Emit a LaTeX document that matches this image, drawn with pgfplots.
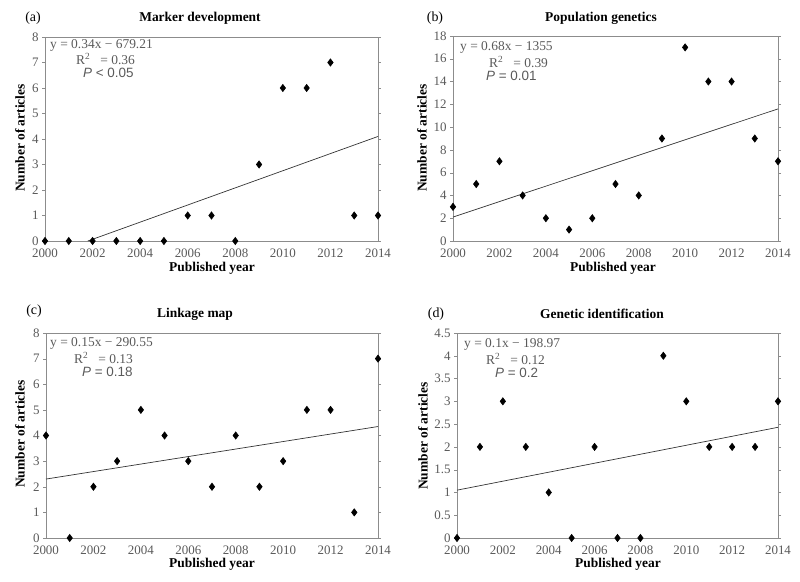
\documentclass[border=0pt]{standalone}
\usepackage{fontspec}
\setmainfont{Liberation Serif}
\setsansfont{Liberation Sans}
\usepackage{pgfplots}
\pgfplotsset{compat=1.18}
\definecolor{axgray}{RGB}{140,140,140}
\definecolor{txtgray}{RGB}{90,90,90}
\newcommand{\tk}{\fontsize{13}{13}\selectfont}
\newcommand{\ttl}{\fontsize{13.5}{13.5}\selectfont\bfseries}
\newcommand{\eq}{\fontsize{13.5}{13.5}\selectfont\color{txtgray}}
\pgfplotsset{
  panel/.style={
    scale only axis, anchor=south west, clip=false,
    xmin=2000, xmax=2014, ymin=0,
    xtick={2000,2002,...,2014},
    axis line style={draw=axgray},
    tick label style={font=\tk, text=txtgray},
    x tick label style={yshift=-1bp},
    /pgf/number format/assume math mode=true,
    /pgf/number format/1000 sep={},
    xtick style={draw=none},
    ytick style={draw=axgray},
    tick align=outside, major tick length=3bp,
    every axis plot/.append style={line width=0.6pt},
  },
  pts/.style={only marks, mark=diamond*, mark size=3.6bp, black, mark options={fill=black}},
  trend/.style={black!80, no marks, line width=0.7pt},
}
\begin{document}
\begin{tikzpicture}
\useasboundingbox (0,0) rectangle (800bp,582bp);
% (a)
\begin{axis}[panel, at={(45bp,341bp)}, width=333bp, height=204bp, ymax=8, ytick={0,1,...,8}]
\addplot[trend] coordinates {(2001.8,0) (2014,4.1)};
\addplot[pts] coordinates {(2000,0) (2001,0) (2002,0) (2003,0) (2004,0) (2005,0) (2006,1) (2007,1) (2008,0) (2009,3) (2010,6) (2011,6) (2012,7) (2013,1) (2014,1)};
\end{axis}
% (b)
\begin{axis}[panel, at={(453bp,341bp)}, width=325bp, height=205bp, ymax=18, ytick={0,2,...,18}]
\addplot[trend] coordinates {(2000,2.1) (2014,11.6)};
\addplot[pts] coordinates {(2000,3) (2001,5) (2002,7) (2003,4) (2004,2) (2005,1) (2006,2) (2007,5) (2008,4) (2009,9) (2010,17) (2011,14) (2012,14) (2013,9) (2014,7)};
\end{axis}
% (c)
\begin{axis}[panel, at={(46bp,44bp)}, width=332bp, height=205bp, ymax=8, ytick={0,1,...,8}]
\addplot[trend] coordinates {(2000,2.3) (2014,4.35)};
\addplot[pts] coordinates {(2000,4) (2001,0) (2002,2) (2003,3) (2004,5) (2005,4) (2006,3) (2007,2) (2008,4) (2009,2) (2010,3) (2011,5) (2012,5) (2013,1) (2014,7)};
\end{axis}
% (d)
\begin{axis}[panel, at={(457bp,44bp)}, width=321bp, height=205bp, ymax=4.5, ytick={0,0.5,...,4.5}]
\addplot[trend] coordinates {(2000,1.05) (2014,2.43)};
\addplot[pts] coordinates {(2000,0) (2001,2) (2002,3) (2003,2) (2004,1) (2005,0) (2006,2) (2007,0) (2008,0) (2009,4) (2010,3) (2011,2) (2012,2) (2013,2) (2014,3)};
\end{axis}
% panel letters and titles
\node[font=\fontsize{14}{14}\selectfont] at (33bp,564bp) {(a)};
\node[font=\ttl] at (200bp,564bp) {Marker development};
\node[font=\fontsize{14}{14}\selectfont] at (435bp,564bp) {(b)};
\node[font=\ttl] at (601bp,564bp) {Population genetics};
\node[font=\fontsize{14}{14}\selectfont] at (34bp,271bp) {(c)};
\node[font=\ttl] at (195bp,268bp) {Linkage map};
\node[font=\fontsize{14}{14}\selectfont] at (436bp,268bp) {(d)};
\node[font=\ttl] at (602bp,268bp) {Genetic identification};
% axis labels
\node[font=\ttl, rotate=90] at (20bp,444bp) {Number of articles};
\node[font=\ttl, rotate=90] at (422bp,444bp) {Number of articles};
\node[font=\ttl, rotate=90] at (20bp,148bp) {Number of articles};
\node[font=\ttl, rotate=90] at (423bp,146bp) {Number of articles};
\node[font=\ttl] at (212bp,314bp) {Published year};
\node[font=\ttl] at (613bp,314bp) {Published year};
\node[font=\ttl] at (212bp,18bp) {Published year};
\node[font=\ttl] at (618bp,18bp) {Published year};
% equations
\node[font=\eq, anchor=west, inner sep=0pt] at (50bp,537bp) {y = 0.34x − 679.21};
\node[font=\eq, anchor=west, inner sep=0pt] at (76bp,523bp) {R\textsuperscript{2}\ \ \ = 0.36};
\node[font=\eq\sffamily, anchor=west, inner sep=0pt] at (83bp,509bp) {\textit{P} < 0.05};
\node[font=\eq, anchor=west, inner sep=0pt] at (460bp,535bp) {y = 0.68x − 1355};
\node[font=\eq, anchor=west, inner sep=0pt] at (489bp,520bp) {R\textsuperscript{2}\ \ \ = 0.39};
\node[font=\eq\sffamily, anchor=west, inner sep=0pt] at (486bp,506bp) {\textit{P} = 0.01};
\node[font=\eq, anchor=west, inner sep=0pt] at (50bp,239bp) {y = 0.15x − 290.55};
\node[font=\eq, anchor=west, inner sep=0pt] at (74bp,224bp) {R\textsuperscript{2}\ \ \ = 0.13};
\node[font=\eq\sffamily, anchor=west, inner sep=0pt] at (82bp,210bp) {\textit{P} = 0.18};
\node[font=\eq, anchor=west, inner sep=0pt] at (464bp,238bp) {y = 0.1x − 198.97};
\node[font=\eq, anchor=west, inner sep=0pt] at (486bp,223bp) {R\textsuperscript{2}\ \ \ = 0.12};
\node[font=\eq\sffamily, anchor=west, inner sep=0pt] at (495bp,209bp) {\textit{P} = 0.2};
\end{tikzpicture}
\end{document}
